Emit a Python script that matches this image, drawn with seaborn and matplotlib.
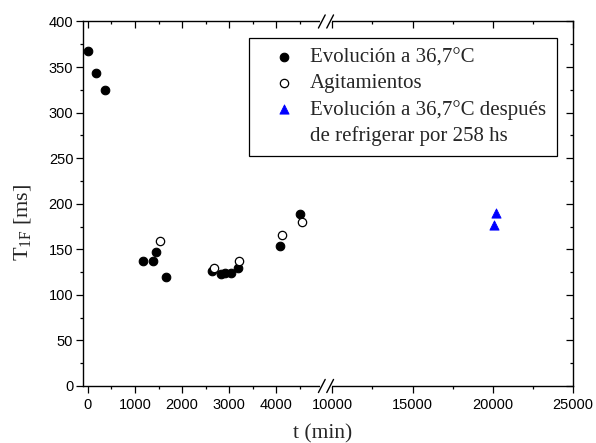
import numpy as np
import matplotlib
matplotlib.use("Agg")
import matplotlib.pyplot as plt
import seaborn as sns
from matplotlib.lines import Line2D
from matplotlib.ticker import FixedLocator, StrMethodFormatter

# data
t_evol = [0, 180, 365, 1170, 1375, 1450, 1665, 2625, 2815, 2915, 3045, 3190, 4070, 4500]
T_evol = [368, 343, 325, 137, 137, 147, 120, 126, 123, 124, 124, 130, 154, 189]

t_agit = [1530, 2680, 3215, 4115, 4540]
T_agit = [159, 130, 137, 166, 180]

t_refr = [20100, 20200]
T_refr = [177, 190]

x_major = [0, 1000, 2000, 3000, 4000, 10000, 15000, 20000, 25000]
x_minor = [500, 1500, 2500, 3500, 4500, 12500, 17500, 22500]
y_major = list(range(0, 401, 50))
y_minor = list(range(25, 400, 50))

sns.set_style("ticks")
plt.rcParams["font.family"] = ["Liberation Sans", "DejaVu Sans"]
plt.rcParams["mathtext.fontset"] = "custom"
plt.rcParams["mathtext.rm"] = "Liberation Serif"
plt.rcParams["mathtext.it"] = "Liberation Serif:italic"
serif = ["Liberation Serif", "DejaVu Serif"]

# broken x axis: 0-5000 then 10000-25000 compressed
B1, B2, R = 5050, 9600, 0.34


def fwd(x):
    x = np.asarray(x, dtype=float)
    return np.where(x <= B1, x, np.where(x >= B2, B1 + (x - B2) * R, B1))


def inv(x):
    x = np.asarray(x, dtype=float)
    return np.where(x <= B1, x, B2 + (x - B1) / R)


fig = plt.figure(figsize=(5.96, 4.43), dpi=100)
ax = fig.add_axes([0.1393, 0.1287, 0.8221, 0.8228])
ax.set_xscale("function", functions=(fwd, inv))

sns.scatterplot(x=t_evol, y=T_evol, color="black", edgecolor="black", linewidth=0.8,
                marker="o", s=38, label="Evolución a 36,7°C", ax=ax, zorder=3)
sns.scatterplot(x=t_agit, y=T_agit, color="white", edgecolor="black", linewidth=0.9,
                marker="o", s=36, label="Agitamientos", ax=ax, zorder=4)
sns.scatterplot(x=t_refr, y=T_refr, color="#0000ff", edgecolor="#0000ff", linewidth=0.6,
                marker="^", s=44, label="Evolución a 36,7°C después", ax=ax, zorder=3)

ax.set_xlim(-100, 25000)
ax.set_ylim(0, 400)
ax.xaxis.set_major_locator(FixedLocator(x_major))
ax.xaxis.set_minor_locator(FixedLocator(x_minor))
ax.xaxis.set_major_formatter(StrMethodFormatter("{x:.0f}"))
ax.yaxis.set_major_locator(FixedLocator(y_major))
ax.yaxis.set_minor_locator(FixedLocator(y_minor))

for s in ax.spines.values():
    s.set_visible(True)
    s.set_linewidth(1.0)
    s.set_color("black")

ax.tick_params(which="both", direction="out", top=False, right=False, width=0.9,
               color="black", labelsize=10.5, labelcolor="black")
ax.tick_params(which="major", length=5)
ax.tick_params(which="minor", length=2.5)
ax.tick_params(axis="x", pad=4)
ax.tick_params(axis="y", pad=2)

# mirrored ticks pointing inward on top and right
ax2 = ax.twinx()
ax2.set_ylim(0, 400)
ax2.yaxis.set_major_locator(FixedLocator(y_major))
ax2.yaxis.set_minor_locator(FixedLocator(y_minor))
ax2.xaxis.set_visible(True)
ax2.xaxis.set_ticks_position("top")
for s in ax2.spines.values():
    s.set_visible(False)
ax2.tick_params(which="both", direction="in", labeltop=False, labelright=False,
                labelbottom=False, labelleft=False, bottom=False, left=False,
                top=True, right=True, width=0.9, color="black")
ax2.tick_params(which="major", length=5)
ax2.tick_params(which="minor", length=2.5)

ax.set_xlabel("t (min)", fontfamily=serif, fontsize=15.5)
ax.set_ylabel(r"T$_{\mathrm{1F}}$ [ms]", fontfamily=serif, fontsize=16)
ax.xaxis.set_label_coords(0.49, -0.105)
ax.yaxis.set_label_coords(-0.102, 0.45)

# break marks
xb = (B1 + 100) / (B1 + (25000 - B2) * R + 100)
off, dx, dy = 0.0085, 0.0069, 0.018
for yy in (0, 1):
    ax2.plot([xb - off, xb + off], [yy, yy], color="white", lw=3,
             transform=ax2.transAxes, clip_on=False, zorder=10)
    for c in (xb - off, xb + off):
        ax2.plot([c - dx, c + dx], [yy - dy, yy + dy], color="black", lw=1,
                 transform=ax2.transAxes, clip_on=False, zorder=11)

handles, labels = ax.get_legend_handles_labels()
handles.append(Line2D([], [], linestyle="none"))
labels.append("de refrigerar por 258 hs")
leg = ax.legend(handles, labels, loc="upper right", bbox_to_anchor=(0.967, 0.956),
                prop={"family": serif, "size": 15}, frameon=True, fancybox=False,
                edgecolor="black", framealpha=1, borderpad=0.5, handlelength=2.4,
                handletextpad=0.05, labelspacing=0.3, borderaxespad=0)
leg.get_frame().set_linewidth(0.9)
leg.set_zorder(20)

fig.savefig("out.png", dpi=100)
